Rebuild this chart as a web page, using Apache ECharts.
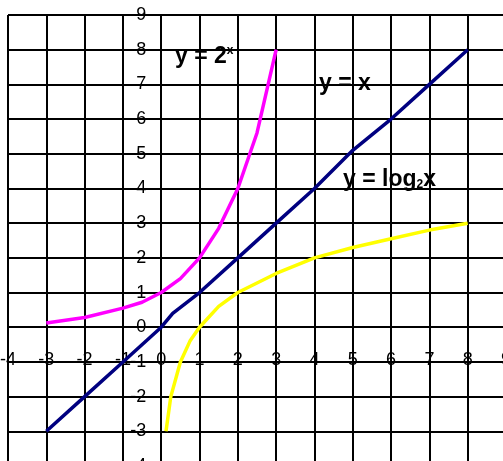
<!DOCTYPE html>
<html>
<head>
<meta charset="utf-8">
<script src="https://cdn.jsdelivr.net/npm/echarts@6/dist/echarts.min.js"></script>
<style>
  html, body { margin: 0; padding: 0; background: #fff; }
  #chart { width: 503px; height: 461px; }
</style>
</head>
<body>
<div id="chart"></div>
<script>
// axis range / ticks
var axisMin = -4
var axisMax = 9

// y = 2^x
var expPoints = [[-3, 0.125], [-2, 0.28], [-1, 0.55], [-0.5, 0.72], [0, 1], [0.5, 1.4], [1, 2], [1.5, 2.85], [2, 4], [2.5, 5.6], [3, 8]]
// y = x
var linPoints = [[-3, -3], [-2, -2], [-1, -1], [0, 0], [0.3, 0.4], [1, 1], [2, 2], [3, 3], [4, 4], [5, 5.1], [6, 6], [7, 7], [8, 8]]
// y = log2 x
var logPoints = [[0.125, -3], [0.25, -2], [0.5, -1], [0.75, -0.4], [1, 0], [1.5, 0.6], [2, 1], [3, 1.55], [4, 2], [5, 2.3], [6, 2.55], [7, 2.8], [8, 3]]

var font = '"Liberation Sans", Arial, sans-serif'

var gridW = 498
var gridH = 451
// move the axes from the grid edge onto the zero lines
var xAxisShift = -gridH * (0 - axisMin) / (axisMax - axisMin)
var yAxisShift = -gridW * (0 - axisMin) / (axisMax - axisMin)

var myChart = echarts.init(document.getElementById('chart'))

var option = {
  animation: false,
  backgroundColor: '#fff',
  grid: {
    left: 8,
    top: 15,
    width: gridW,
    height: gridH,
    containLabel: false,
    outerBoundsMode: 'none'
  },
  xAxis: {
    type: 'value',
    position: 'bottom',
    offset: xAxisShift,
    min: axisMin,
    max: axisMax,
    interval: 1,
    axisLine: { show: true, onZero: false, lineStyle: { color: '#000', width: 2 } },
    axisTick: { show: false },
    axisLabel: {
      margin: 24,
      fontSize: 18,
      fontFamily: font,
      color: '#000',
      showMinLabel: true,
      showMaxLabel: true
    },
    splitLine: { show: true, lineStyle: { color: '#000', width: 2 } }
  },
  yAxis: {
    type: 'value',
    position: 'left',
    offset: yAxisShift,
    min: axisMin,
    max: axisMax,
    interval: 1,
    axisLine: { show: true, onZero: false, lineStyle: { color: '#000', width: 2 } },
    axisTick: { show: false },
    axisLabel: {
      margin: 15,
      fontSize: 18,
      fontFamily: font,
      color: '#000',
      showMinLabel: true,
      showMaxLabel: true
    },
    splitLine: { show: true, lineStyle: { color: '#000', width: 2 } }
  },
  series: [
    {
      name: 'y = 2^x',
      type: 'line',
      data: expPoints,
      showSymbol: false,
      lineStyle: { color: '#ff00ff', width: 3.5 }
    },
    {
      name: 'y = x',
      type: 'line',
      data: linPoints,
      showSymbol: false,
      lineStyle: { color: '#000080', width: 3.5 }
    },
    {
      name: 'y = log2x',
      type: 'line',
      data: logPoints,
      showSymbol: false,
      lineStyle: { color: '#ffff00', width: 3.5 }
    }
  ],
  graphic: [
    {
      type: 'text',
      left: 175,
      top: 45,
      style: {
        text: 'y = 2{sup|x}',
        font: 'bold 23px ' + font,
        fill: '#000',
        rich: {
          sup: { fontSize: 12, fontWeight: 'bold', fontFamily: font, verticalAlign: 'top', padding: [0, 0, 12, 0] }
        }
      }
    },
    {
      type: 'text',
      left: 319,
      top: 72,
      style: {
        text: 'y = x',
        font: 'bold 23px ' + font,
        fill: '#000'
      }
    },
    {
      type: 'text',
      left: 343,
      top: 168,
      style: {
        text: 'y = log{sub|2}x',
        font: 'bold 23px ' + font,
        fill: '#000',
        rich: {
          sub: { fontSize: 12, fontWeight: 'bold', fontFamily: font, padding: [10, 0, 0, 0] }
        }
      }
    }
  ]
}

myChart.setOption(option)
</script>
</body>
</html>
